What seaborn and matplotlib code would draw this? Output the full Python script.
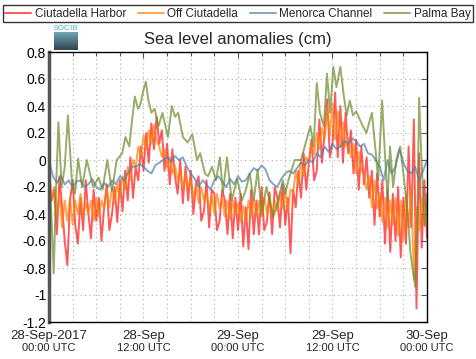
import numpy as np
import pandas as pd
import matplotlib
matplotlib.use("Agg")
import matplotlib.pyplot as plt
import seaborn as sns
from matplotlib.ticker import MultipleLocator, FormatStrFormatter

# hours since 28-Sep-2017 00:00 UTC
# Ciutadella Harbor, 20 min steps (3 values per hour)
harbor = [
    -0.08, -0.30, -0.22,  -0.55, -0.12, -0.35,  -0.60, -0.78, -0.30,  -0.15, -0.48, -0.62,
    -0.28, -0.52, -0.15,  -0.40, -0.58, -0.22,  -0.45, -0.28, -0.60,  -0.35, -0.18, -0.52,
    -0.40, -0.20, -0.46,  -0.15, -0.38, -0.08,  -0.30, 0.02, -0.28,   -0.05, -0.15, 0.10,
    -0.08, 0.20, -0.02,    0.27, 0.08, 0.32,     0.12, 0.22, -0.08,    0.12, -0.18, 0.08,
    -0.12, -0.25, 0.00,   -0.32, -0.05, -0.30,  -0.08, -0.40, -0.18,  -0.12, -0.45, -0.38,
    -0.15, -0.50, -0.22,  -0.25, -0.52, -0.45,  -0.22, -0.30, -0.55,  -0.25, -0.58, -0.28,
    -0.52, -0.25, -0.64,  -0.35, -0.66, -0.22,  -0.55, -0.30, -0.55,  -0.20, -0.52, -0.46,
    -0.24, -0.55, -0.20,  -0.28, -0.50, -0.18,  -0.48, -0.28, -0.69,  -0.22, -0.35, -0.08,
    -0.28, 0.05, -0.22,   -0.02, 0.15, -0.15,   -0.08, 0.30, -0.02,    0.22, 0.45, 0.02,
     0.12, 0.50, 0.02,     0.40, -0.02, 0.35,    0.05, 0.22, -0.10,    0.15, -0.22, 0.10,
    -0.18, 0.02, -0.28,   -0.08, -0.48, -0.10,  -0.42, -0.15, -0.62,  -0.22, -0.68, -0.25,
    -0.60, -0.20, -0.72,  -0.28, -0.62, 0.10,   -0.50, 0.30, -1.10,    0.05, -0.65, -0.15,
    -0.58,
]
# Off Ciutadella, 20 min steps
offshore = [
    -0.15, -0.30, -0.20,  -0.42, -0.25, -0.50,  -0.30, -0.45, -0.28,  -0.48, -0.30, -0.40,
    -0.25, -0.42, -0.32,  -0.40, -0.30, -0.45,  -0.28, -0.42, -0.30,  -0.36, -0.22, -0.35,
    -0.20, -0.32, -0.18,  -0.28, -0.12, -0.22,  -0.05, -0.15, 0.00,   -0.05, 0.10, 0.02,
     0.18, 0.08, 0.22,     0.12, 0.26, 0.14,     0.10, 0.02, 0.08,    -0.06, 0.02, -0.10,
    -0.04, -0.15, -0.08,  -0.22, -0.10, -0.20,  -0.15, -0.28, -0.18,  -0.32, -0.20, -0.30,
    -0.24, -0.38, -0.26,  -0.40, -0.25, -0.36,  -0.28, -0.42, -0.30,  -0.44, -0.30, -0.40,
    -0.32, -0.46, -0.34,  -0.46, -0.30, -0.42,  -0.28, -0.42, -0.30,  -0.42, -0.28, -0.40,
    -0.26, -0.42, -0.30,  -0.38, -0.24, -0.36,  -0.22, -0.38, -0.22,  -0.24, -0.08, -0.18,
     0.00, -0.12, 0.02,   -0.02, 0.12, 0.04,     0.20, 0.08, 0.24,     0.15, 0.38, 0.18,
     0.42, 0.15, 0.36,     0.10, 0.28, 0.10,     0.16, 0.02, 0.12,    -0.10, 0.06, -0.08,
    -0.10, -0.22, -0.12,  -0.35, -0.15, -0.36,  -0.25, -0.46, -0.28,  -0.50, -0.30, -0.48,
    -0.28, -0.56, -0.30,  -0.60, -0.25, -0.50,  -0.20, -0.88, -0.35,  -0.52, -0.28, -0.48,
    -0.32,
]
# Menorca Channel, 30 min steps
channel = [
     0.00, -0.12, -0.17, -0.12, -0.18, -0.15, -0.20, -0.16, -0.15, -0.20, -0.18, -0.14,
    -0.20, -0.22, -0.17, -0.20, -0.15, -0.18, -0.12, -0.15, -0.10, -0.05, -0.05, -0.03,
    -0.05, -0.08, -0.10, -0.04, -0.02, 0.00, 0.02, -0.01, 0.03, 0.00, 0.02, -0.05,
    -0.10, -0.14, -0.20, -0.15, -0.18, -0.22, -0.15, -0.12, -0.16, -0.20, -0.14, -0.18,
    -0.12, -0.16, -0.15, -0.10, -0.06, -0.08, -0.04, -0.07, -0.15, -0.18, -0.20, -0.14,
    -0.10, -0.08, -0.10, -0.06, -0.02, -0.04, 0.00, -0.02, 0.05, 0.02, 0.10, 0.06,
     0.12, 0.08, 0.10, 0.14, 0.12, 0.16, 0.14, 0.10, 0.12, 0.05, 0.04, 0.00,
    -0.05, -0.15, 0.00, -0.10, -0.05, 0.08, -0.02, -0.08, -0.10, -0.05, -0.15, -0.08,
     0.00,
]
# Palma Bay, read at turning points
palma_hours = [
    0.0, 0.3, 0.6, 0.9, 1.2, 1.6, 2.0, 2.4, 2.9, 3.3, 3.7, 4.2, 4.8, 5.2, 5.6, 6.3,
    6.8, 7.4, 8.0, 8.6, 9.3, 9.7, 10.2, 10.5, 10.9, 11.3, 11.6, 12.0, 12.3, 12.6, 13.0,
    13.4, 13.9, 14.4, 15.1, 15.6, 16.0, 16.4, 17.0, 17.6, 18.2, 18.8, 19.2, 19.8, 20.2,
    20.7, 21.2, 21.7, 22.1, 22.6, 23.2, 23.9, 24.5, 25.0, 25.5, 26.0, 26.5, 27.0, 27.6,
    28.5, 29.1, 29.7, 30.0, 30.4, 31.2, 32.0, 32.8, 33.2, 33.6, 34.0, 34.4, 34.9, 35.3,
    35.7, 36.1, 36.5, 37.0, 37.4, 37.8, 38.2, 38.6, 39.0, 39.7, 40.3, 41.0, 41.5, 41.8,
    42.3, 42.7, 43.0, 43.3, 43.7, 44.1, 44.6, 45.0, 45.5, 45.9, 46.5, 46.8, 47.0, 47.3,
    47.7, 48.0,
]
palma = [
    -0.10, -0.40, -0.84, -0.20, 0.28, -0.20, -0.05, 0.33, -0.15, -0.25, 0.01, -0.20, 0.00,
    -0.10, -0.20, -0.13, -0.22, 0.00, -0.23, 0.00, 0.05, 0.17, 0.10, 0.27, 0.47, 0.38,
    0.41, 0.52, 0.58, 0.45, 0.35, 0.38, 0.25, 0.35, 0.17, 0.40, 0.32, 0.35, 0.17, 0.13,
    0.19, 0.00, 0.05, -0.10, -0.12, -0.05, -0.15, 0.02, -0.24, 0.02, -0.30, -0.14, -0.30,
    -0.22, -0.10, -0.30, -0.07, -0.40, -0.20, -0.42, -0.30, -0.15, -0.25, -0.15, 0.00,
    0.00, 0.17, 0.25, 0.10, 0.57, 0.35, 0.25, 0.64, 0.35, 0.69, 0.54, 0.69, 0.49, 0.33,
    0.44, 0.33, 0.36, 0.27, 0.20, 0.35, 0.05, -0.15, 0.44, 0.00, -0.30, 0.10, -0.20, 0.00,
    0.10, -0.10, -0.36, -0.69, -0.94, -0.30, 0.46, 0.00, -0.49, -0.25,
]
names = ["Ciutadella Harbor", "Off Ciutadella", "Menorca Channel", "Palma Bay"]
colors = ["#ff0000", "#ff8000", "#4f7fb0", "#6b8a2a"]
tick_hours = [0, 12, 24, 36, 48]
tick_days = ["28-Sep-2017", "28-Sep", "29-Sep", "29-Sep", "30-Sep"]
tick_times = ["00:00 UTC", "12:00 UTC", "00:00 UTC", "12:00 UTC", "00:00 UTC"]

sns.set_style("white")
plt.rcParams["font.family"] = ["Liberation Sans", "DejaVu Sans"]
plt.rcParams["axes.unicode_minus"] = False

frames = [
    pd.DataFrame({"hour": np.arange(len(harbor)) / 3, "level": harbor, "station": names[0]}),
    pd.DataFrame({"hour": np.arange(len(offshore)) / 3, "level": offshore, "station": names[1]}),
    pd.DataFrame({"hour": np.arange(len(channel)) / 2, "level": channel, "station": names[2]}),
    pd.DataFrame({"hour": palma_hours, "level": palma, "station": names[3]}),
]

fig = plt.figure(figsize=(4.76, 3.59), dpi=100)
ax = fig.add_axes([49 / 476, 1 - 322 / 359, 378 / 476, 270 / 359])

alphas = [0.65, 0.7, 0.7, 0.7]
for df, c, a in zip(frames, colors, alphas):
    sns.lineplot(data=df, x="hour", y="level", color=c, lw=1.4, alpha=a,
                 label=df["station"].iloc[0], ax=ax, legend=False)

ax.set_xlim(0, 48)
ax.set_ylim(-1.2, 0.8)
ax.xaxis.set_major_locator(MultipleLocator(12))
ax.xaxis.set_minor_locator(MultipleLocator(3))
ax.yaxis.set_major_locator(MultipleLocator(0.2))
ax.yaxis.set_major_formatter(FormatStrFormatter("%g"))
ax.set_xticklabels([])
ax.grid(True, which="both", axis="x", ls=(0, (1, 3)), color="#aaaaaa", lw=0.8)
ax.grid(True, which="major", axis="y", ls=(0, (1, 3)), color="#aaaaaa", lw=0.8)
ax.tick_params(axis="both", which="both", direction="in", top=True, right=True,
               length=4, width=0.8, color="#555555", labelsize=10, labelcolor="black", pad=2)
ax.tick_params(axis="x", which="minor", length=3)
ax.set_xlabel("")
ax.set_ylabel("")
for s in ["top", "right", "bottom"]:
    ax.spines[s].set_color("black")
    ax.spines[s].set_linewidth(1)
ax.spines["left"].set_color("#555555")
ax.spines["left"].set_linewidth(2.5)

for h, d, t in zip(tick_hours, tick_days, tick_times):
    ax.text(h, -0.052, d, transform=ax.get_xaxis_transform(), ha="center", va="center", fontsize=9.5)
    ax.text(h, -0.098, t, transform=ax.get_xaxis_transform(), ha="center", va="center", fontsize=8)

ax.set_title("Sea level anomalies (cm)", fontsize=12, pad=6)

# SOCIB logo
logo = fig.add_axes([54 / 476, 1 - 50 / 359, 24 / 476, 18 / 359])
logo.imshow(np.linspace(0, 1, 20).reshape(-1, 1), aspect="auto",
            cmap=matplotlib.colors.LinearSegmentedColormap.from_list("l", ["#6fa3b3", "#344552"]))
logo.axis("off")
fig.text(66 / 476, 1 - 29 / 359, "SOCIB", fontsize=6, color="#4cb8cc", ha="center", va="center")

handles, labels = ax.get_legend_handles_labels()
fig.legend(handles, labels, loc="lower left", ncol=4, mode="expand",
           bbox_to_anchor=(3 / 476, 1 - 22 / 359, 470 / 476, 20 / 359), borderaxespad=0,
           frameon=True, fancybox=False, edgecolor="black",
           fontsize=8.5, handlelength=2.2, handletextpad=0.3, columnspacing=0.3, borderpad=0.2)

fig.savefig("out.png", dpi=100)
